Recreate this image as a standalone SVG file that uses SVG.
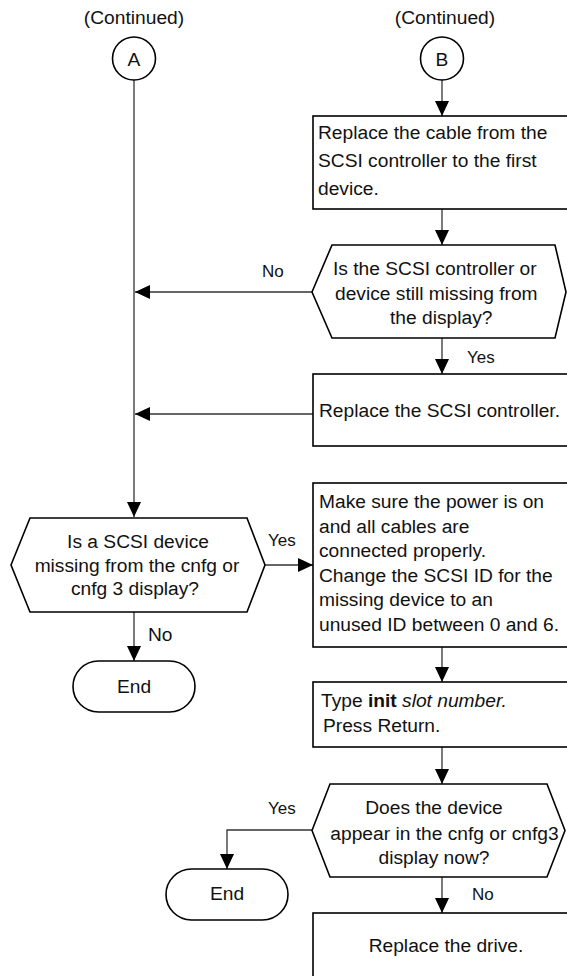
<svg xmlns="http://www.w3.org/2000/svg" width="567" height="976" viewBox="0 0 567 976">
<defs>
<style>
text{font-family:"Liberation Sans",Arial,sans-serif;fill:#111;font-size:19.2px}
.lbl{font-size:17px}
.c{text-anchor:middle}
.shape{fill:#fff;stroke:#000;stroke-width:1.6}
.conn{fill:none;stroke:#333;stroke-width:1.3}
</style>
<marker id="ah" markerUnits="userSpaceOnUse" markerWidth="15" markerHeight="15" refX="15" refY="7" orient="auto">
<path d="M0,0 L15,7 L0,14 z" fill="#000"/>
</marker>
</defs>
<rect width="567" height="976" fill="#fff"/>

<g id="connectors">
<path class="conn" d="M134,80 V517" marker-end="url(#ah)"/>
<path class="conn" d="M442,80 V116" marker-end="url(#ah)"/>
<path class="conn" d="M442,209 V245" marker-end="url(#ah)"/>
<path class="conn" d="M312,292 H135" marker-end="url(#ah)"/>
<path class="conn" d="M442,338 V374" marker-end="url(#ah)"/>
<path class="conn" d="M313,414 H135" marker-end="url(#ah)"/>
<path class="conn" d="M265,565 H313" marker-end="url(#ah)"/>
<path class="conn" d="M134,612 V661" marker-end="url(#ah)"/>
<path class="conn" d="M442,647 V682" marker-end="url(#ah)"/>
<path class="conn" d="M442,747 V784" marker-end="url(#ah)"/>
<path class="conn" d="M312,830 H227 V869" marker-end="url(#ah)"/>
<path class="conn" d="M442,877 V913" marker-end="url(#ah)"/>
<text class="lbl" x="262" y="277">No</text>
<text class="lbl" x="467" y="363">Yes</text>
<text class="lbl" x="268" y="546">Yes</text>
<text x="148" y="641">No</text>
<text class="lbl" x="268" y="814">Yes</text>
<text class="lbl" x="472" y="900">No</text>
</g>

<g id="contA">
<text class="c" x="134" y="24">(Continued)</text>
</g>
<g id="contB">
<text class="c" x="445" y="24">(Continued)</text>
</g>

<g id="connA">
<circle class="shape" cx="134" cy="58.5" r="21.5"/>
<text class="c" x="134" y="65.5">A</text>
</g>
<g id="connB">
<circle class="shape" cx="442" cy="58.5" r="21.5"/>
<text class="c" x="442" y="65.5">B</text>
</g>

<g id="replaceCable">
<rect class="shape" x="313" y="116" width="260" height="93"/>
<text x="318" y="139">Replace the cable from the</text>
<text x="318" y="167">SCSI controller to the first</text>
<text x="318" y="195">device.</text>
</g>

<g id="stillMissing">
<polygon class="shape" points="312,292 332,245 555,245 566,292 555,338 332,338"/>
<text x="333" y="275">Is the SCSI controller or</text>
<text x="335" y="299.5">device still missing from</text>
<text x="390" y="324">the display?</text>
</g>

<g id="replaceController">
<rect class="shape" x="313" y="374" width="260" height="72"/>
<text x="319" y="416.5">Replace the SCSI controller.</text>
</g>

<g id="deviceMissing">
<polygon class="shape" points="11,565 30,518 247,518 265,565 247,612 30,612"/>
<text class="c" x="138" y="548">Is a SCSI device</text>
<text class="c" x="137" y="571.5">missing from the cnfg or</text>
<text class="c" x="135" y="595">cnfg 3 display?</text>
</g>

<g id="end1">
<rect class="shape" x="73" y="661" width="122" height="51" rx="25.5"/>
<text class="c" x="134" y="693">End</text>
</g>

<g id="makeSure">
<rect class="shape" x="313" y="483" width="260" height="164"/>
<text x="319" y="508">Make sure the power is on</text>
<text x="319" y="532.5">and all cables are</text>
<text x="319" y="557">connected properly.</text>
<text x="319" y="581.5">Change the SCSI ID for the</text>
<text x="319" y="606">missing device to an</text>
<text x="319" y="630.5">unused ID between 0 and 6.</text>
</g>

<g id="typeInit">
<rect class="shape" x="313" y="682" width="260" height="65"/>
<text x="321" y="706.5">Type <tspan font-weight="bold">init</tspan> <tspan font-style="italic">slot number.</tspan></text>
<text x="323" y="731.5">Press Return.</text>
</g>

<g id="appearNow">
<polygon class="shape" points="312,830.5 330,784 547,784 565,830.5 547,877 330,877"/>
<text class="c" x="434" y="814">Does the device</text>
<text class="c" x="444.5" y="840">appear in the cnfg or cnfg3</text>
<text class="c" x="434" y="864">display now?</text>
</g>

<g id="end2">
<rect class="shape" x="166" y="869" width="122" height="51" rx="25.5"/>
<text class="c" x="227" y="900">End</text>
</g>

<g id="replaceDrive">
<rect class="shape" x="313" y="913" width="260" height="80"/>
<text class="c" x="446" y="952">Replace the drive.</text>
</g>
</svg>
